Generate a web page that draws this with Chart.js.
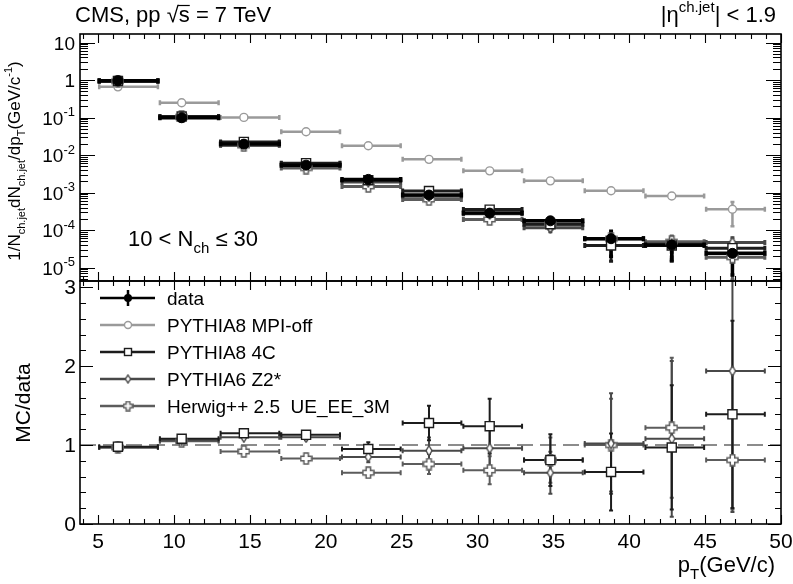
<!DOCTYPE html>
<html>
<head>
<meta charset="utf-8">
<script src="https://cdn.jsdelivr.net/npm/chart.js@4.4.0/dist/chart.umd.min.js"></script>
<style>
  html, body { margin: 0; padding: 0; background: #fff; }
  #c { display: block; }
</style>
</head>
<body>
<canvas id="c" width="793" height="584" style="width:793px;height:584px"></canvas>
<script>
// bins in pT (GeV/c) and the mean pT where markers sit
const binEdges = [5, 9, 13, 17, 21, 25, 29, 33, 37, 41, 45, 49];
const ptMean = [6.3, 10.5, 14.6, 18.7, 22.8, 26.8, 30.8, 34.8, 38.8, 42.8, 46.8];

// top panel: 1/N dN/dpT
const dataVal = [0.96, 0.099, 0.0196, 0.0054, 0.00225, 8.6e-4, 2.84e-4, 1.77e-4, 5.9e-5, 4.0e-5, 2.4e-5];
const dataErr = [0.02, 0.003, 0.0007, 0.0003, 0.00015, 9e-5, 5e-5, 5e-5, 4e-5, 2.5e-5, 1.8e-5];
const mpiOffVal = [0.66, 0.248, 0.101, 0.042, 0.0177, 0.0077, 0.0038, 0.00206, 0.00112, 8.1e-4, 3.6e-4];
const mpiOffErr = [0.01, 0.004, 0.0015, 0.0006, 0.0003, 0.00015, 0.0001, 0.0003, 0.00025, 0.00015, 0.00024];
const p8Val = [0.94, 0.107, 0.0225, 0.0061, 0.00214, 0.0011, 3.52e-4, 1.43e-4, 3.9e-5, 3.9e-5, 3.3e-5];
const p8Err = [0.01, 0.002, 0.0005, 0.0002, 0.0001, 8e-5, 5e-5, 3e-5, 2.5e-5, 2.5e-5, 2e-5];
const p6Val = [0.93, 0.105, 0.0216, 0.0059, 0.00191, 8.0e-4, 2.73e-4, 1.15e-4, 6.0e-5, 4.3e-5, 4.7e-5];
const p6Err = [0.01, 0.002, 0.0005, 0.0002, 0.0001, 7e-5, 4e-5, 3e-5, 2.5e-5, 2.5e-5, 2e-5];
const hwVal = [0.93, 0.104, 0.018, 0.0045, 0.00146, 6.5e-4, 1.93e-4, 1.43e-4, 5.9e-5, 4.9e-5, 1.9e-5];
const hwErr = [0.01, 0.002, 0.0005, 0.0002, 0.0001, 6e-5, 4e-5, 3e-5, 2.5e-5, 2.5e-5, 1.5e-5];

// bottom panel: MC/data
const p8Ratio = [0.98, 1.08, 1.15, 1.13, 0.95, 1.28, 1.24, 0.81, 0.66, 0.97, 1.39];
const p8RatioErr = [0.03, 0.03, 0.04, 0.05, 0.1, 0.23, 0.36, 0.34, 0.5, 0.8, 1.2];
const p6Ratio = [0.97, 1.06, 1.10, 1.10, 0.85, 0.93, 0.96, 0.65, 1.02, 1.08, 1.94];
const p6RatioErr = [0.03, 0.03, 0.04, 0.05, 0.08, 0.18, 0.3, 0.28, 0.65, 1.0, 1.8];
const hwRatio = [0.97, 1.05, 0.92, 0.83, 0.65, 0.76, 0.68, 0.81, 1.0, 1.22, 0.81];
const hwRatioErr = [0.03, 0.03, 0.04, 0.04, 0.07, 0.14, 0.19, 0.3, 0.6, 0.9, 0.64];

// tick labels
const xTickLabels = [5, 10, 15, 20, 25, 30, 35, 40, 45, 50];
const logTickExps = [1, 0, -1, -2, -3, -4, -5];
const ratioTickLabels = [0, 1, 2, 3];

const legendLabels = ['data', 'PYTHIA8 MPI-off', 'PYTHIA8 4C', 'PYTHIA6 Z2*', 'Herwig++ 2.5  UE_EE_3M'];

const FONT = '"Liberation Sans", Arial, Helvetica, sans-serif';
const C_DATA = '#000000', C_MPI = '#9a9a9a', C_P8 = '#1c1c1c', C_P6 = '#484848', C_HW = '#5c5c5c';

function makeCross(size, color) {
    let c = document.createElement('canvas');
    c.width = size; c.height = size;
    let g = c.getContext('2d');
    let h = size / 2, L = h - 1, w = size * 0.17;
    g.translate(h, h);
    g.beginPath();
    let pts = [[-w,-L],[w,-L],[w,-w],[L,-w],[L,w],[w,w],[w,L],[-w,L],[-w,w],[-L,w],[-L,-w],[-w,-w]];
    pts.forEach((p, i) => i ? g.lineTo(p[0], p[1]) : g.moveTo(p[0], p[1]));
    g.closePath();
    g.fillStyle = '#fff'; g.fill();
    g.strokeStyle = color; g.lineWidth = 1.5; g.stroke();
    return c;
}

function makeDiamond(w, h, color) {
    let c = document.createElement('canvas');
    c.width = w; c.height = h;
    let g = c.getContext('2d');
    g.beginPath();
    g.moveTo(w / 2, 1); g.lineTo(w - 1, h / 2); g.lineTo(w / 2, h - 1); g.lineTo(1, h / 2);
    g.closePath();
    g.fillStyle = '#fff'; g.fill();
    g.strokeStyle = color; g.lineWidth = 1.4; g.stroke();
    return c;
}

const crossImg = makeCross(13, C_HW);
const crossSmall = makeCross(11, C_HW);
const diamondImg = makeDiamond(8, 12, C_P6);
const diamondSmall = makeDiamond(7, 10, C_P6);

function pts(vals) {
    return ptMean.map((x, i) => ({ x: x, y: vals[i] }));
}

function rich(ctx, parts, x, y, size, align) {
    let sm = Math.round(size * 0.66);
    let w = 0;
    parts.forEach(p => {
        ctx.font = (p[1] ? sm : size) + 'px ' + FONT;
        w += ctx.measureText(p[0]).width;
    });
    let cx = align === 'right' ? x - w : align === 'center' ? x - w / 2 : x;
    ctx.textAlign = 'left';
    ctx.textBaseline = 'alphabetic';
    parts.forEach(p => {
        ctx.font = (p[1] ? sm : size) + 'px ' + FONT;
        let dy = p[1] === 'sub' ? size * 0.3 : p[1] === 'sup' ? -size * 0.45 : 0;
        ctx.fillText(p[0], cx, y + dy);
        cx += ctx.measureText(p[0]).width;
    });
    return w;
}

function drawBars(ctx, xs, ys, vals, errs, color, lw) {
    ctx.save();
    ctx.beginPath();
    ctx.rect(xs.left, ys.top, xs.right - xs.left, ys.bottom - ys.top);
    ctx.clip();
    ctx.strokeStyle = color;
    ctx.lineWidth = lw;
    ctx.beginPath();
    for (let i = 0; i < vals.length; i++) {
        let y = ys.getPixelForValue(vals[i]);
        let x0 = xs.getPixelForValue(binEdges[i]);
        let x1 = xs.getPixelForValue(binEdges[i + 1]);
        let xm = xs.getPixelForValue(ptMean[i]);
        let lo = vals[i] - errs[i];
        if (lo <= ys.min) lo = ys.min;
        let yt = ys.getPixelForValue(vals[i] + errs[i]);
        let yb = ys.getPixelForValue(lo);
        ctx.moveTo(x0, y); ctx.lineTo(x1, y);
        ctx.moveTo(xm, yt); ctx.lineTo(xm, yb);
        // small end marks
        ctx.moveTo(x0 + 1, y - 2.5); ctx.lineTo(x0 + 1, y + 2.5);
        ctx.moveTo(x1 - 1, y - 2.5); ctx.lineTo(x1 - 1, y + 2.5);
        ctx.moveTo(xm - 2, yt + 1); ctx.lineTo(xm + 2, yt + 1);
        ctx.moveTo(xm - 2, yb - 1); ctx.lineTo(xm + 2, yb - 1);
    }
    ctx.stroke();
    ctx.restore();
}

function drawMarker(ctx, kind, x, y, color) {
    ctx.save();
    ctx.strokeStyle = color; ctx.lineWidth = 1.4;
    if (kind === 'dot') {
        ctx.fillStyle = color;
        ctx.beginPath(); ctx.arc(x, y, 4, 0, Math.PI * 2); ctx.fill();
    } else if (kind === 'circle') {
        ctx.fillStyle = '#fff';
        ctx.beginPath(); ctx.arc(x, y, 3.5, 0, Math.PI * 2); ctx.fill(); ctx.stroke();
    } else if (kind === 'square') {
        ctx.fillStyle = '#fff';
        ctx.fillRect(x - 3.5, y - 3.5, 7, 7); ctx.strokeRect(x - 3.5, y - 3.5, 7, 7);
    } else if (kind === 'diamond') {
        ctx.drawImage(diamondSmall, x - diamondSmall.width / 2, y - diamondSmall.height / 2);
    } else if (kind === 'cross') {
        ctx.drawImage(crossSmall, x - crossSmall.width / 2, y - crossSmall.height / 2);
    }
    ctx.restore();
}

const panelPlugin = {
    id: 'panels',
    beforeDatasetsDraw(chart) {
        const ctx = chart.ctx;
        const xs = chart.scales.x, ys = chart.scales.y, yr = chart.scales.yr;
        // reference line at MC/data = 1
        ctx.save();
        ctx.strokeStyle = '#8c8c8c';
        ctx.lineWidth = 2;
        ctx.setLineDash([16, 7]);
        ctx.beginPath();
        let y1 = yr.getPixelForValue(1);
        ctx.moveTo(xs.left, y1); ctx.lineTo(xs.right, y1);
        ctx.stroke();
        ctx.restore();
        // ratio panel
        drawBars(ctx, xs, yr, hwRatio, hwRatioErr, C_HW, 2);
        drawBars(ctx, xs, yr, p6Ratio, p6RatioErr, C_P6, 2);
        drawBars(ctx, xs, yr, p8Ratio, p8RatioErr, C_P8, 2);
        // spectra panel
        drawBars(ctx, xs, ys, mpiOffVal, mpiOffErr, C_MPI, 2.5);
        drawBars(ctx, xs, ys, hwVal, hwErr, C_HW, 3);
        drawBars(ctx, xs, ys, p6Val, p6Err, C_P6, 3);
        drawBars(ctx, xs, ys, p8Val, p8Err, C_P8, 3);
        drawBars(ctx, xs, ys, dataVal, dataErr, C_DATA, 3.5);
    },
    afterDraw(chart) {
        const ctx = chart.ctx;
        const xs = chart.scales.x, ys = chart.scales.y, yr = chart.scales.yr;
        const L = xs.left, R = xs.right;
        ctx.save();
        // frames
        ctx.strokeStyle = '#000';
        ctx.lineWidth = 1.6;
        ctx.strokeRect(L, ys.top, R - L, ys.bottom - ys.top);
        ctx.strokeRect(L, yr.top, R - L, yr.bottom - yr.top);
        // ticks
        ctx.lineWidth = 1.1;
        ctx.beginPath();
        const edges = [[ys.top, 1], [ys.bottom, -1], [yr.top, 1], [yr.bottom, -1]];
        for (let v = Math.ceil(xs.min); v <= xs.max; v++) {
            let px = Math.round(xs.getPixelForValue(v)) + 0.5;
            let len = v % 5 === 0 ? 9 : 5;
            edges.forEach(e => { ctx.moveTo(px, e[0]); ctx.lineTo(px, e[0] + e[1] * len); });
        }
        for (let k = -6; k <= 1; k++) {
            for (let m = 1; m <= 9; m++) {
                let v = m * Math.pow(10, k);
                if (v < ys.min || v > ys.max) continue;
                let py = Math.round(ys.getPixelForValue(v)) + 0.5;
                let len = m === 1 ? 15 : 8;
                ctx.moveTo(L, py); ctx.lineTo(L + len, py);
                ctx.moveTo(R, py); ctx.lineTo(R - len, py);
            }
        }
        for (let j = 0; j * 0.2 <= yr.max + 1e-9; j++) {
            let py = Math.round(yr.getPixelForValue(j * 0.2)) + 0.5;
            let len = j % 5 === 0 ? 13 : 6;
            ctx.moveTo(L, py); ctx.lineTo(L + len, py);
            ctx.moveTo(R, py); ctx.lineTo(R - len, py);
        }
        ctx.stroke();

        ctx.fillStyle = '#000';
        // x tick labels
        ctx.font = '21px ' + FONT;
        ctx.textAlign = 'center';
        ctx.textBaseline = 'alphabetic';
        xTickLabels.forEach(v => ctx.fillText(String(v), xs.getPixelForValue(v), 548));
        // ratio tick labels
        ctx.textAlign = 'right';
        ctx.textBaseline = 'middle';
        ratioTickLabels.forEach(v => ctx.fillText(String(v), 76, yr.getPixelForValue(v) + 1));
        // log tick labels
        logTickExps.forEach(k => {
            let py = ys.getPixelForValue(Math.pow(10, k)) + 7;
            if (k === 0) rich(ctx, [['1']], 75, py, 19, 'right');
            else if (k === 1) rich(ctx, [['10']], 75, py, 19, 'right');
            else rich(ctx, [['10'], [String(k), 'sup']], 75, py, 19, 'right');
        });

        // header
        ctx.font = '22px ' + FONT;
        let hx = 75;
        ctx.textAlign = 'left'; ctx.textBaseline = 'alphabetic';
        ctx.fillText('CMS, pp ', hx, 22); hx += ctx.measureText('CMS, pp ').width;
        ctx.fillText('\u221A', hx, 22); hx += ctx.measureText('\u221A').width;
        let sw = ctx.measureText('s').width;
        ctx.fillText('s', hx, 22);
        ctx.lineWidth = 1.2;
        ctx.beginPath(); ctx.moveTo(hx - 1, 5.5); ctx.lineTo(hx + sw, 5.5); ctx.stroke();
        hx += sw;
        ctx.fillText(' = 7 TeV', hx, 22);
        rich(ctx, [['|\u03B7'], ['ch.jet', 'sup'], ['| < 1.9']], 776, 22, 22, 'right');

        // multiplicity label
        rich(ctx, [['10 < N'], ['ch', 'sub'], [' \u2264 30']], 128, 246, 22, 'left');

        // axis titles
        ctx.save();
        ctx.translate(20, 161);
        ctx.rotate(-Math.PI / 2);
        rich(ctx, [['1/N'], ['ch.jet', 'sub'], ['dN'], ['ch.jet', 'sub'], ['/dp'], ['T', 'sub'],
                   ['(GeV/c'], ['-1', 'sup'], [')']], 0, 0, 17, 'center');
        ctx.restore();
        ctx.save();
        ctx.translate(30, 403);
        ctx.rotate(-Math.PI / 2);
        rich(ctx, [['MC/data']], 0, 0, 21, 'center');
        ctx.restore();
        rich(ctx, [['p'], ['T', 'sub'], ['(GeV/c)']], 775, 572, 22, 'right');

        // legend
        const kinds = ['dot', 'circle', 'square', 'diamond', 'cross'];
        const colors = [C_DATA, C_MPI, C_P8, C_P6, C_HW];
        legendLabels.forEach((lab, i) => {
            let ry = 298 + i * 27;
            ctx.strokeStyle = colors[i];
            ctx.lineWidth = 2.5;
            ctx.beginPath(); ctx.moveTo(100, ry); ctx.lineTo(155, ry);
            if (i === 0) { ctx.moveTo(128, ry - 8); ctx.lineTo(128, ry + 8); }
            ctx.stroke();
            drawMarker(ctx, kinds[i], 128, ry, colors[i]);
            ctx.fillStyle = '#000';
            rich(ctx, [[lab]], 167, ry + 7, 19, 'left');
        });
        ctx.restore();
    }
};

new Chart(document.getElementById('c'), {
    type: 'scatter',
    data: {
        datasets: [
            { label: 'data', data: pts(dataVal), yAxisID: 'y', pointStyle: 'circle', pointRadius: 5,
              backgroundColor: C_DATA, borderColor: C_DATA, borderWidth: 1 },
            { label: 'PYTHIA8 4C', data: pts(p8Val), yAxisID: 'y', pointStyle: 'rect', pointRadius: 6.4,
              backgroundColor: '#fff', borderColor: C_P8, borderWidth: 1.4 },
            { label: 'PYTHIA6 Z2*', data: pts(p6Val), yAxisID: 'y', pointStyle: diamondImg,
              backgroundColor: '#fff', borderColor: C_P6 },
            { label: 'Herwig++', data: pts(hwVal), yAxisID: 'y', pointStyle: crossImg,
              backgroundColor: '#fff', borderColor: C_HW },
            { label: 'PYTHIA8 MPI-off', data: pts(mpiOffVal), yAxisID: 'y', pointStyle: 'circle', pointRadius: 4,
              backgroundColor: '#fff', borderColor: C_MPI, borderWidth: 1.4 },
            { label: 'PYTHIA8 4C / data', data: pts(p8Ratio), yAxisID: 'yr', pointStyle: 'rect', pointRadius: 6.4,
              backgroundColor: '#fff', borderColor: C_P8, borderWidth: 1.4 },
            { label: 'PYTHIA6 Z2* / data', data: pts(p6Ratio), yAxisID: 'yr', pointStyle: diamondImg,
              backgroundColor: '#fff', borderColor: C_P6 },
            { label: 'Herwig++ / data', data: pts(hwRatio), yAxisID: 'yr', pointStyle: crossImg,
              backgroundColor: '#fff', borderColor: C_HW }
        ]
    },
    options: {
        responsive: false,
        animation: false,
        devicePixelRatio: 1,
        layout: { padding: { left: 0, right: 12, top: 34, bottom: 0 } },
        plugins: { legend: { display: false }, tooltip: { enabled: false } },
        scales: {
            x: {
                type: 'linear', position: 'bottom', min: 3.8, max: 50,
                grid: { display: false }, border: { display: false }, ticks: { display: false },
                afterFit: s => { s.height = 60; }
            },
            yr: {
                type: 'linear', position: 'left', stack: 'panels', stackWeight: 243, min: 0, max: 3.08,
                grid: { display: false }, border: { display: false }, ticks: { display: false },
                afterFit: s => { s.width = 80; }
            },
            y: {
                type: 'logarithmic', position: 'left', stack: 'panels', stackWeight: 247, min: 4.4e-6, max: 16.9,
                grid: { display: false }, border: { display: false }, ticks: { display: false },
                afterFit: s => { s.width = 80; }
            }
        }
    },
    plugins: [panelPlugin]
});
</script>
</body>
</html>
